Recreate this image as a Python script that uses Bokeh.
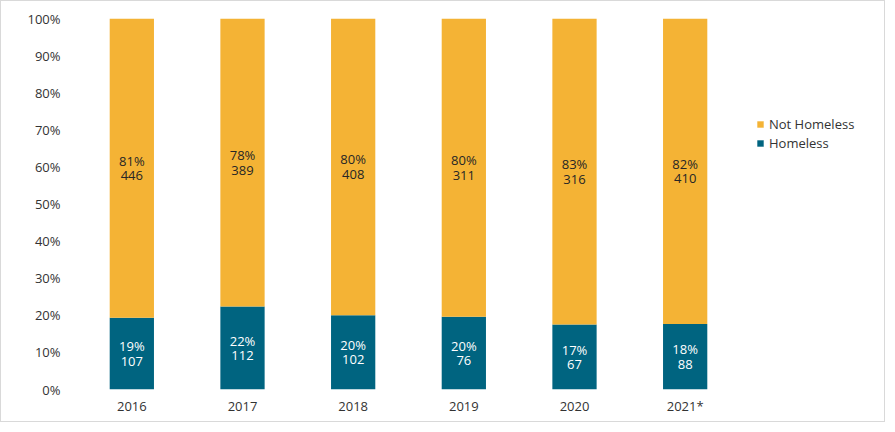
from bokeh.plotting import figure
from bokeh.models import ColumnDataSource, Range1d, Legend, LegendItem, NumeralTickFormatter, FixedTicker
from bokeh.core.properties import value
from bokeh.embed import file_html
from bokeh.resources import INLINE

years = ["2016", "2017", "2018", "2019", "2020", "2021*"]
homeless = [107, 112, 102, 76, 67, 88]
not_homeless = [446, 389, 408, 311, 316, 410]
y_ticks = [0, 0.1, 0.2, 0.3, 0.4, 0.5, 0.6, 0.7, 0.8, 0.9, 1.0]

TEAL = "#006480"
ORANGE = "#F4B335"
FONT = "Open Sans"

totals = [h + n for h, n in zip(homeless, not_homeless)]
h_share = [h / t for h, t in zip(homeless, totals)]
n_share = [n / t for n, t in zip(not_homeless, totals)]
idx = list(range(len(years)))

source = ColumnDataSource(dict(
    x=idx,
    h=h_share,
    n=n_share,
    h_mid=[s / 2 for s in h_share],
    n_mid=[hs + ns / 2 for hs, ns in zip(h_share, n_share)],
    h_pct=[f"{round(s * 100)}%" for s in h_share],
    n_pct=[f"{round(s * 100)}%" for s in n_share],
    h_cnt=[str(c) for c in homeless],
    n_cnt=[str(c) for c in not_homeless],
))

W, H = 885, 422
LEFT, RIGHT, TOP, BOTTOM = 75, 10, 17, 34
cat_px = 664 / len(years)
frame_w = W - LEFT - RIGHT
x_end = -0.5 + frame_w / cat_px

p = figure(
    x_range=Range1d(-0.5, x_end),
    y_range=Range1d(0, 1),
    width=W, height=H,
    output_backend="svg", toolbar_location=None,
    min_border_left=LEFT, min_border_top=TOP, min_border_bottom=BOTTOM, min_border_right=RIGHT,
)
p.styles = {"border": "1px solid #d9d9d9"}
p.outline_line_color = None
p.xgrid.grid_line_color = None
p.ygrid.grid_line_color = None

rs = p.vbar_stack(["h", "n"], x="x", width=0.4, color=[TEAL, ORANGE], source=source, line_color=None)

for ycol, tcol, off, col in [("h_mid", "h_pct", -7.5, "white"), ("h_mid", "h_cnt", 7.5, "white"),
                             ("n_mid", "n_pct", -7.5, "#262626"), ("n_mid", "n_cnt", 7.5, "#262626")]:
    p.text(x="x", y=ycol, text=tcol, source=source, text_color=col, y_offset=off,
           text_font=value(FONT), text_font_size="13px", text_align="center", text_baseline="middle")

for ax in (p.xaxis, p.yaxis):
    ax.axis_line_color = None
    ax.major_tick_line_color = None
    ax.minor_tick_line_color = None
    ax.major_tick_out = 0
    ax.major_tick_in = 0
    ax.major_label_text_font = FONT
    ax.major_label_text_font_size = "13px"
    ax.major_label_text_color = "#333333"

p.xaxis.ticker = FixedTicker(ticks=idx)
p.xaxis.major_label_overrides = {i: y for i, y in zip(idx, years)}
p.yaxis.ticker = FixedTicker(ticks=y_ticks)
p.yaxis.formatter = NumeralTickFormatter(format="0%")
p.yaxis.major_label_standoff = 16
p.xaxis.major_label_standoff = 7

legend = Legend(items=[
    LegendItem(label="Not Homeless", renderers=[rs[1]]),
    LegendItem(label="Homeless", renderers=[rs[0]]),
], location=(680, 237))
legend.border_line_color = None
legend.background_fill_alpha = 0
legend.padding = 0
legend.margin = 0
legend.spacing = 0
legend.glyph_width = 8
legend.glyph_height = 8
legend.label_height = 19
legend.label_standoff = 5
legend.label_text_font = FONT
legend.label_text_font_size = "13px"
legend.label_text_color = "#333333"
p.add_layout(legend)

open("out.html", "w").write(file_html(p, INLINE))
